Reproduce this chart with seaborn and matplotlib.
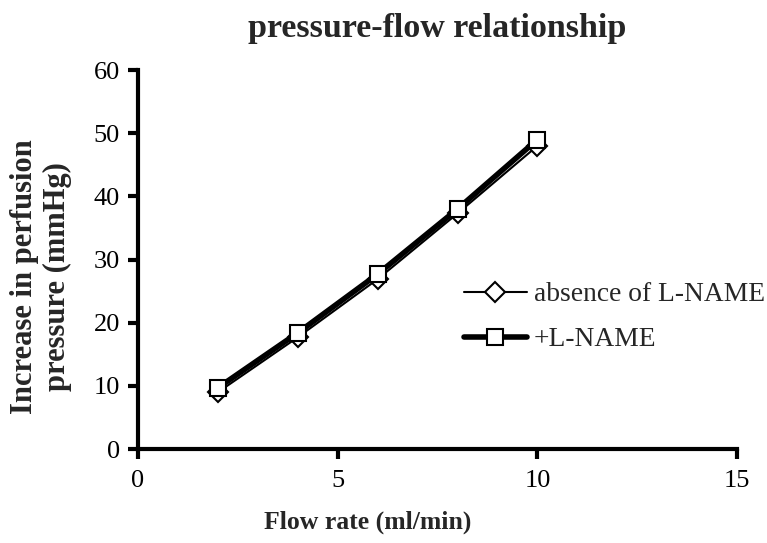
import matplotlib
matplotlib.use("Agg")
import matplotlib.pyplot as plt
import seaborn as sns
import pandas as pd

# data
flow_rate = [2, 4, 6, 8, 10]
absence_lname = [9.0, 17.7, 26.9, 37.3, 48.0]
plus_lname = [9.7, 18.4, 27.7, 38.0, 49.0]

sns.set_theme(style="ticks")
plt.rcParams['font.family'] = ['Liberation Serif', 'DejaVu Serif']

df_abs = pd.DataFrame({'flow': flow_rate, 'pressure': absence_lname})
df_plus = pd.DataFrame({'flow': flow_rate, 'pressure': plus_lname})

fig = plt.figure(figsize=(7.67, 5.43), dpi=100)
ax = fig.add_axes([0.18, 0.173, 0.781, 0.698])

sns.lineplot(data=df_abs, x='flow', y='pressure', ax=ax, color='black',
             linewidth=1.5, marker='D', markersize=10, markerfacecolor='white',
             markeredgecolor='black', markeredgewidth=1.5,
             label='absence of L-NAME')
sns.lineplot(data=df_plus, x='flow', y='pressure', ax=ax, color='black',
             linewidth=4, marker='s', markersize=12, markerfacecolor='white',
             markeredgecolor='black', markeredgewidth=1.5,
             label='+L-NAME')

ax.set_xlim(0, 15)
ax.set_ylim(0, 60)
ax.set_xticks([0, 5, 10, 15])
ax.set_yticks(range(0, 61, 10))
sns.despine(ax=ax)
for side in ['left', 'bottom']:
    ax.spines[side].set_linewidth(3)
    ax.spines[side].set_color('black')
ax.tick_params(axis='both', direction='out', length=7, width=3,
               labelsize=19, colors='black')
ax.tick_params(axis='x', pad=8)
ax.tick_params(axis='y', pad=6)

ax.set_xlabel('Flow rate (ml/min)', fontsize=18.5, fontweight='bold')
ax.xaxis.set_label_coords(0.383, -0.163)
ax.set_ylabel('Increase in perfusion\npressure (mmHg)', fontsize=22,
              fontweight='bold', linespacing=1.2)
ax.yaxis.set_label_coords(-0.11, 0.456)
ax.set_title('pressure-flow relationship', fontsize=24.5, fontweight='bold', pad=24)

ax.legend(loc='upper left', bbox_to_anchor=(0.525, 0.47), frameon=False,
          fontsize=19.8, handlelength=2.3, labelspacing=0.72, handletextpad=0.25,
          borderaxespad=0)

fig.savefig('out.png', dpi=100)
